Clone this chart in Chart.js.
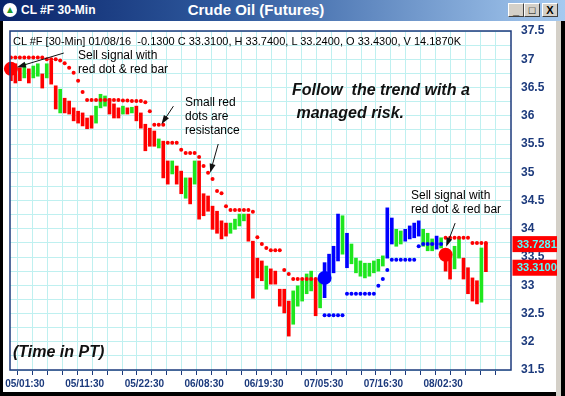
<!DOCTYPE html>
<html>
<head>
<meta charset="utf-8">
<script src="https://cdn.jsdelivr.net/npm/chart.js@4.4.0/dist/chart.umd.min.js"></script>
<style>
  body { margin: 0; width: 565px; height: 396px; overflow: hidden; background: #000; position: relative;
         font-family: "Liberation Sans", Arial, sans-serif; }
  #titlebar { position: absolute; left: 0; top: 0; width: 565px; height: 21px;
              background: linear-gradient(to right, #0a246a 0%, #2f5a9e 40%, #a6caf0 100%); }
  #icon { position: absolute; left: 3px; top: 3px; width: 14px; height: 14px; border-radius: 7px; background: #fff;
          color: #1a9a2a; font-size: 10px; line-height: 14px; text-align: center; }
  #wintitle { position: absolute; left: 21px; top: 3px; color: #fff; font: bold 12px "Liberation Sans", Arial; }
  #maintitle { position: absolute; left: 0; width: 512px; top: 1px; text-align: center; color: #fff;
               font: bold 15px "Liberation Sans", Arial; }
  .btn { position: absolute; top: 3px; width: 16px; height: 14px; box-sizing: border-box; background: #d4d0c8;
         border: 1px solid; border-color: #fff #404040 #404040 #fff; font: bold 11px Arial; text-align: center;
         line-height: 12px; color: #000; }
  #pane { position: absolute; left: 3px; top: 21px; width: 553px; height: 371px; background: #fff; }
  #rside { position: absolute; left: 556px; top: 21px; width: 5px; height: 375px; background: #d4d0c8; }
  #wrap { position: absolute; left: 3px; top: 22px; width: 554px; height: 370px; }
  .note { position: absolute; color: #000; font-size: 12px; line-height: 14px; white-space: pre; }
  .big { position: absolute; color: #111; font-weight: bold; font-style: italic; font-size: 16px; line-height: 23px; white-space: pre; }
</style>
</head>
<body>
<div id="titlebar">
  <div id="icon">&#9650;</div>
  <div id="wintitle">CL #F 30-Min</div>
  <div id="maintitle">Crude Oil (Futures)</div>
  <div class="btn" style="left:508px">_</div>
  <div class="btn" style="left:524px">&#9633;</div>
  <div class="btn" style="left:542px">X</div>
</div>
<div id="pane"></div>
<div id="rside"></div>
<div id="wrap"><canvas id="chart"></canvas></div>

<div class="note" style="left:13px;top:34px;font-size:11px">CL #F [30-Min] 01/08/16  -0.1300 C 33.3100, H 33.7400, L 33.2400, O 33.4300, V 14.1870K</div>
<div class="note" style="left:78px;top:48px">Sell signal with
red dot &amp; red bar</div>
<div class="note" style="left:185px;top:95px">Small red
dots are
resistance</div>
<div class="big" style="left:292px;top:78px">Follow  the trend with a
 managed risk.</div>
<div class="note" style="left:411px;top:188px">Sell signal with
red dot &amp; red bar</div>
<div class="big" style="left:13px;top:340px">(Time in PT)</div>

<script>
// 30-min bars, high / low / colour (r = sell side, g = counter bar, b = buy side)
const barHigh = [
  36.92, 36.92, 36.85, 36.92, 36.83, 36.88, 36.92, 36.74, 36.92, 36.97,
  36.53, 36.47, 36.31, 36.26, 36.14, 36.08, 36.05, 35.96, 36.00, 36.17,
  36.38, 36.35, 36.30, 36.21, 36.14, 36.17, 36.14, 36.15, 36.17, 36.05,
  35.85, 35.78, 35.73, 35.59, 35.55, 35.20, 35.20, 35.11, 35.02, 34.90,
  34.90, 35.20, 35.20, 34.62, 34.58, 34.40, 34.31, 34.14, 34.10, 34.10,
  34.17, 34.26, 34.26, 34.26, 33.78, 33.48, 33.43, 33.34, 33.29, 33.25,
  32.93, 32.93, 32.72, 32.90, 32.99, 33.08, 33.20, 33.25, 33.11, 33.13,
  33.40, 33.55, 33.69, 34.26, 34.23, 33.92, 33.73, 33.48, 33.43, 33.39,
  33.39, 33.43, 33.46, 33.52, 34.37, 34.19, 33.99, 33.96, 33.99, 34.05,
  34.10, 34.14, 33.99, 33.92, 33.82, 33.87, 33.84, 33.61, 33.52, 33.69,
  33.84, 33.48, 33.31, 33.13, 33.08, 33.66, 33.74
];
const barLow = [
  36.62, 36.58, 36.62, 36.67, 36.58, 36.67, 36.70, 36.49, 36.67, 36.56,
  36.12, 36.05, 36.05, 36.03, 35.91, 35.87, 35.82, 35.77, 35.78, 35.87,
  36.14, 36.17, 36.03, 35.96, 35.96, 36.03, 36.03, 36.05, 35.91, 35.78,
  35.38, 35.46, 35.46, 35.43, 34.90, 34.79, 34.97, 34.79, 34.62, 34.54,
  34.44, 34.79, 34.17, 34.23, 34.31, 33.99, 33.92, 33.82, 33.87, 33.92,
  33.99, 34.05, 34.14, 33.78, 32.77, 33.13, 33.08, 32.93, 33.02, 33.02,
  32.63, 32.51, 32.10, 32.31, 32.63, 32.72, 32.85, 32.90, 32.46, 32.60,
  32.78, 33.13, 33.22, 33.43, 33.55, 33.31, 33.38, 33.22, 33.16, 33.13,
  33.16, 33.22, 33.25, 33.34, 33.48, 33.73, 33.69, 33.73, 33.78, 33.82,
  33.84, 33.87, 33.69, 33.61, 33.61, 33.64, 33.66, 33.25, 33.11, 33.29,
  33.48, 33.11, 32.85, 32.72, 32.67, 32.70, 33.24
];
const barColor = [
  'r','r','r','g','r','g','g','r','g','r',
  'r','g','r','r','r','r','r','r','r','g',
  'g','g','r','r','r','g','r','g','r','r',
  'r','r','r','g','r','r','g','r','r','g',
  'r','g','r','r','r','r','r','r','r','g',
  'g','g','g','r','r','r','r','g','r','r',
  'r','r','r','g','g','g','g','g','r','g',
  'b','b','b','b','g','b','g','g','g','g',
  'g','g','g','g','b','b','g','g','b','b',
  'b','b','g','g','g','b','g','r','r','g',
  'g','r','r','r','r','g','r'
];

// trailing stop dots (resistance above in red, support below in blue)
const redStop = [
  37.03, 37.03, 37.03, 37.03, 37.03, 37.03, 37.03, 37.03, 37.00, 37.00,
  37.00, 36.98, 36.93, 36.85, 36.76, 36.62, 36.42, 36.28, 36.28, 36.28,
  36.28, 36.28, 36.28, 36.28, 36.28, 36.27, 36.27, 36.26, 36.26, 36.26,
  36.24, 36.08, 35.84, 35.84, 35.84, 35.52, 35.52, 35.52, 35.40, 35.34,
  35.34, 35.34, 35.27, 35.11, 34.99, 34.88, 34.67, 34.63, 34.40, 34.33,
  34.33, 34.33, 34.33, 34.33, 34.30, 33.85, 33.73, 33.66, 33.62, 33.62,
  33.62, 33.27, 33.20, 33.11, 33.11, 33.11, 33.11, 33.11, 33.11, 33.11,
  null, null, null, null, null, null, null, null, null, null,
  null, null, null, null, null, null, null, null, null, null,
  null, null, null, null, null, null, null, 33.84, 33.84, 33.84,
  33.84, 33.84, 33.84, 33.75, 33.75, 33.75, 33.75
];
const blueStop = [
  null, null, null, null, null, null, null, null, null, null,
  null, null, null, null, null, null, null, null, null, null,
  null, null, null, null, null, null, null, null, null, null,
  null, null, null, null, null, null, null, null, null, null,
  null, null, null, null, null, null, null, null, null, null,
  null, null, null, null, null, null, null, null, null, null,
  null, null, null, null, null, null, null, null, null, null,
  32.47, 32.47, 32.47, 32.47, 32.47, 32.85, 32.85, 32.85, 32.85, 32.85,
  32.85, 32.85, 32.99, 33.11, 33.27, 33.45, 33.45, 33.45, 33.45, 33.45,
  33.45, 33.69, 33.73, 33.73, 33.73, 33.73, 33.73, null, null, null,
  null, null, null, null, null, null, null
];

// signal dots
const sellSignalBar = [0, 97];
const sellSignalPrice = [36.83, 33.54];
const buySignalBar = [70];
const buySignalPrice = [33.13];

// axis labels
const xLabelAt = [5, 25, 45, 65, 85, 105, 125, 145];
const xLabels = ['05/01:30', '05/11:30', '05/22:30', '06/08:30', '06/19:30', '07/05:30', '07/16:30', '08/02:30'];
const yLabels = [31.5, 32, 32.5, 33, 33.5, 34, 34.5, 35, 35.5, 36, 36.5, 37, 37.5];

// price tags on the right axis
const tagValues = [33.7281, 33.31];
const tagTexts = ['33.7281', '33.3100'];

// arrows: [fromBar, fromPrice, toBar, toPrice] in chart units
const arrows = [
  [18, 37.11, 2.3, 36.86],
  [54.7, 36.17, 50.7, 35.85],
  [69.7, 35.50, 67, 34.99],
  [149, 34.10, 146, 33.68]
];

const palette = { r: '#ff0000', g: '#1ee61e', b: '#0000ff' };
const axisColor = '#1c3a7c';
const gridColor = '#bff0f0';
const fam = '"Liberation Sans", Arial, sans-serif';

function xOf(i) { return 0.3 + 1.5 * i; }

function dots(arr) {
  const out = [];
  arr.forEach((v, i) => { if (v !== null) out.push({ x: xOf(i), y: v }); });
  return out;
}

const xTickVals = [];
for (let v = 0; v <= 160; v += 5) xTickVals.push(v);
const yGridVals = [];
for (let v = 31.5; v <= 37.501; v += 0.25) yGridVals.push(Math.round(v * 100) / 100);

// no extra label padding, the frame sits where layout.padding says
function noPad(s) {
  s.paddingTop = 0; s.paddingBottom = 0; s.paddingLeft = 0; s.paddingRight = 0;
}

const chartDecor = {
  id: 'chartDecor',
  afterDraw(chart) {
    const { ctx, chartArea, scales } = chart;
    const xs = scales.x, ys = scales.y;
    ctx.save();
    // plot frame
    ctx.strokeStyle = axisColor;
    ctx.lineWidth = 1.5;
    ctx.strokeRect(chartArea.left, chartArea.top, chartArea.right - chartArea.left, chartArea.bottom - chartArea.top);
    // arrows
    ctx.strokeStyle = '#111';
    ctx.fillStyle = '#111';
    ctx.lineWidth = 1;
    arrows.forEach(a => {
      const x1 = xs.getPixelForValue(a[0]), y1 = ys.getPixelForValue(a[1]);
      const x2 = xs.getPixelForValue(a[2]), y2 = ys.getPixelForValue(a[3]);
      const ang = Math.atan2(y2 - y1, x2 - x1);
      ctx.beginPath();
      ctx.moveTo(x1, y1);
      ctx.lineTo(x2 - 6 * Math.cos(ang), y2 - 6 * Math.sin(ang));
      ctx.stroke();
      ctx.beginPath();
      ctx.moveTo(x2, y2);
      ctx.lineTo(x2 - 9 * Math.cos(ang) + 3 * Math.sin(ang), y2 - 9 * Math.sin(ang) - 3 * Math.cos(ang));
      ctx.lineTo(x2 - 9 * Math.cos(ang) - 3 * Math.sin(ang), y2 - 9 * Math.sin(ang) + 3 * Math.cos(ang));
      ctx.closePath();
      ctx.fill();
    });
    // price tags
    ctx.font = 'bold 11px ' + fam;
    ctx.textBaseline = 'middle';
    ctx.textAlign = 'left';
    tagValues.forEach((v, i) => {
      const y = ys.getPixelForValue(v);
      ctx.fillStyle = '#ff0000';
      ctx.fillRect(chartArea.right + 1.5, y - 8, 46, 16);
      ctx.fillStyle = '#55ffff';
      ctx.fillText(tagTexts[i], chartArea.right + 6, y + 0.5);
    });
    ctx.restore();
  }
};

new Chart(document.getElementById('chart'), {
  type: 'bar',
  data: {
    datasets: [
      {
        type: 'scatter',
        data: sellSignalBar.map((b, i) => ({ x: xOf(b), y: sellSignalPrice[i] })),
        backgroundColor: '#ff0000', borderColor: '#ff0000', pointRadius: 7, borderWidth: 0,
        clip: 10, order: 1
      },
      {
        type: 'scatter',
        data: buySignalBar.map((b, i) => ({ x: xOf(b), y: buySignalPrice[i] })),
        backgroundColor: '#0000ff', borderColor: '#0000ff', pointRadius: 7, borderWidth: 0,
        clip: 10, order: 1
      },
      {
        type: 'scatter',
        data: dots(redStop),
        backgroundColor: '#ff0000', borderColor: '#ff0000', pointRadius: 2, borderWidth: 0, order: 2
      },
      {
        type: 'scatter',
        data: dots(blueStop),
        backgroundColor: '#0000ff', borderColor: '#0000ff', pointRadius: 2, borderWidth: 0, order: 2
      },
      {
        type: 'bar',
        data: barHigh.map((h, i) => ({ x: xOf(i), y: [barLow[i], h] })),
        backgroundColor: barColor.map(c => palette[c]),
        barThickness: 3, grouped: false, order: 3
      }
    ]
  },
  options: {
    responsive: true,
    maintainAspectRatio: false,
    animation: false,
    layout: { padding: { left: 5, top: 9, right: 0, bottom: 0 } },
    plugins: { legend: { display: false }, tooltip: { enabled: false } },
    scales: {
      x: {
        type: 'linear', min: 0, max: 167.7, offset: false,
        afterBuildTicks: s => { s.ticks = xTickVals.map(v => ({ value: v })); },
        afterFit: s => { s.height = 22; noPad(s); },
        grid: { color: gridColor, tickColor: axisColor, tickLength: 5, lineWidth: 1 },
        border: { display: false },
        ticks: {
          autoSkip: false, maxRotation: 0, padding: 3, color: axisColor,
          font: { size: 10, weight: 'bold', family: fam },
          callback: v => { const k = xLabelAt.indexOf(v); return k >= 0 ? xLabels[k] : ''; }
        }
      },
      y: {
        position: 'right', min: 31.5, max: 37.5,
        afterBuildTicks: s => { s.ticks = yGridVals.map(v => ({ value: v })); },
        afterFit: s => { s.width = 46; noPad(s); },
        grid: { color: gridColor, drawTicks: false, lineWidth: 1 },
        border: { display: false },
        ticks: {
          autoSkip: false, padding: 10, color: axisColor,
          font: { size: 12, weight: 'bold', family: fam },
          callback: v => (yLabels.indexOf(v) >= 0 ? String(v) : '')
        }
      }
    }
  },
  plugins: [chartDecor]
});
</script>
</body>
</html>
